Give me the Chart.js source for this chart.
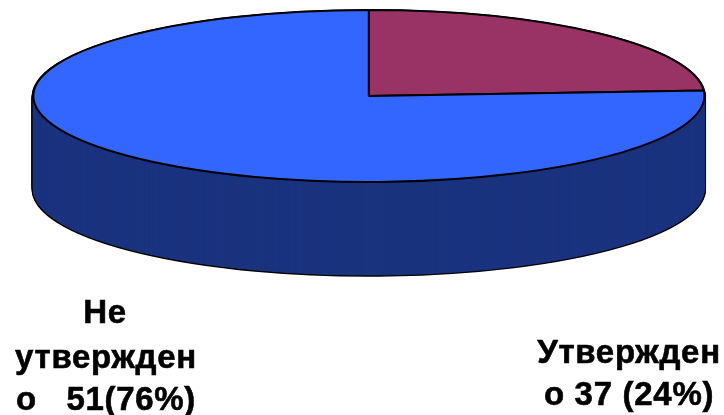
<!DOCTYPE html>
<html>
<head>
<meta charset="utf-8">
<script src="https://cdn.jsdelivr.net/npm/chart.js@4"></script>
<style>
    body { margin: 0; background: #fff; }
    canvas { display: block; }
</style>
</head>
<body>
<canvas id="pie" width="724" height="415"></canvas>
<script>
const categories = ["Утверждено", "Не утверждено"];
const percents = [24, 76];
const sliceColors = ["#993366", "#3366ff"];
const approvedLines = ["Утвержден", "о 37 (24%)"];
const notApprovedLines = ["Не", "утвержден", "о   51(76%)"];

const sideColor = "#1a337f";

// pie is flattened into an ellipse, the wall is the same arcs stacked downwards
const tilt = {
    cx: 368.8, cy: 96, rx: 335.5, ry: 86, depth: 93,
};

function drawWall(ctx, arcs, scaleY, borderColor, borderWidth) {
    arcs.forEach(arc => {
        const saved = arc.options;
        arc.options = {
            backgroundColor: sideColor,
            borderColor: borderColor,
            borderWidth: borderWidth,
            borderAlign: "center",
            borderRadius: 0,
            offset: 0,
            spacing: 0,
            circular: true,
        };
        for (let dy = tilt.depth; dy > 0; dy--) {
            ctx.save();
            ctx.translate(0, dy / scaleY);
            arc.draw(ctx);
            ctx.restore();
        }
        arc.options = saved;
    });
}

function boldLine(ctx, text, x, y) {
    ctx.fillText(text, x, y);
    ctx.strokeText(text, x, y);
}

const pie3d = {
    id: "pie3d",
    beforeDatasetsDraw(chart) {
        const ctx = chart.ctx;
        const arcs = chart.getDatasetMeta(0).data;
        const r = arcs[0].outerRadius;
        const scaleY = tilt.ry / r;

        ctx.save();
        // keep line width even although the context is squashed
        const stroke = ctx.stroke;
        ctx.stroke = function () {
            const m = ctx.getTransform();
            ctx.setTransform(1, 0, 0, 1, 0, 0);
            stroke.call(ctx);
            ctx.setTransform(m);
        };
        ctx.translate(tilt.cx, tilt.cy);
        ctx.scale(tilt.rx / r, scaleY);
        ctx.translate(-arcs[0].x, -arcs[0].y);

        // black silhouette first, then paint over everything inside it
        drawWall(ctx, arcs, scaleY, "#000", 3.5);
        drawWall(ctx, arcs, scaleY, sideColor, 1);
    },
    afterDatasetsDraw(chart) {
        const ctx = chart.ctx;
        delete ctx.stroke;
        ctx.restore();
    },
    afterDraw(chart) {
        const ctx = chart.ctx;
        ctx.save();
        ctx.fillStyle = "#000";
        ctx.strokeStyle = "#000";
        ctx.lineWidth = 0.6;
        ctx.font = "bold 33px 'Liberation Sans'";
        ctx.letterSpacing = "0.7px";
        ctx.textAlign = "center";
        boldLine(ctx, notApprovedLines[0], 105, 323);
        boldLine(ctx, notApprovedLines[1], 106, 368);
        boldLine(ctx, notApprovedLines[2], 106, 410);
        boldLine(ctx, approvedLines[0], 629, 363);
        boldLine(ctx, approvedLines[1], 629, 405);
        ctx.restore();
    },
};

new Chart(document.getElementById("pie"), {
    type: "pie",
    data: {
        labels: categories,
        datasets: [{
            data: percents,
            backgroundColor: sliceColors,
            borderColor: "#000",
            borderWidth: 2,
            clip: false,
        }],
    },
    options: {
        responsive: false,
        animation: false,
        plugins: {
            legend: { display: false },
            tooltip: { enabled: false },
        },
    },
    plugins: [pie3d],
});
</script>
</body>
</html>
